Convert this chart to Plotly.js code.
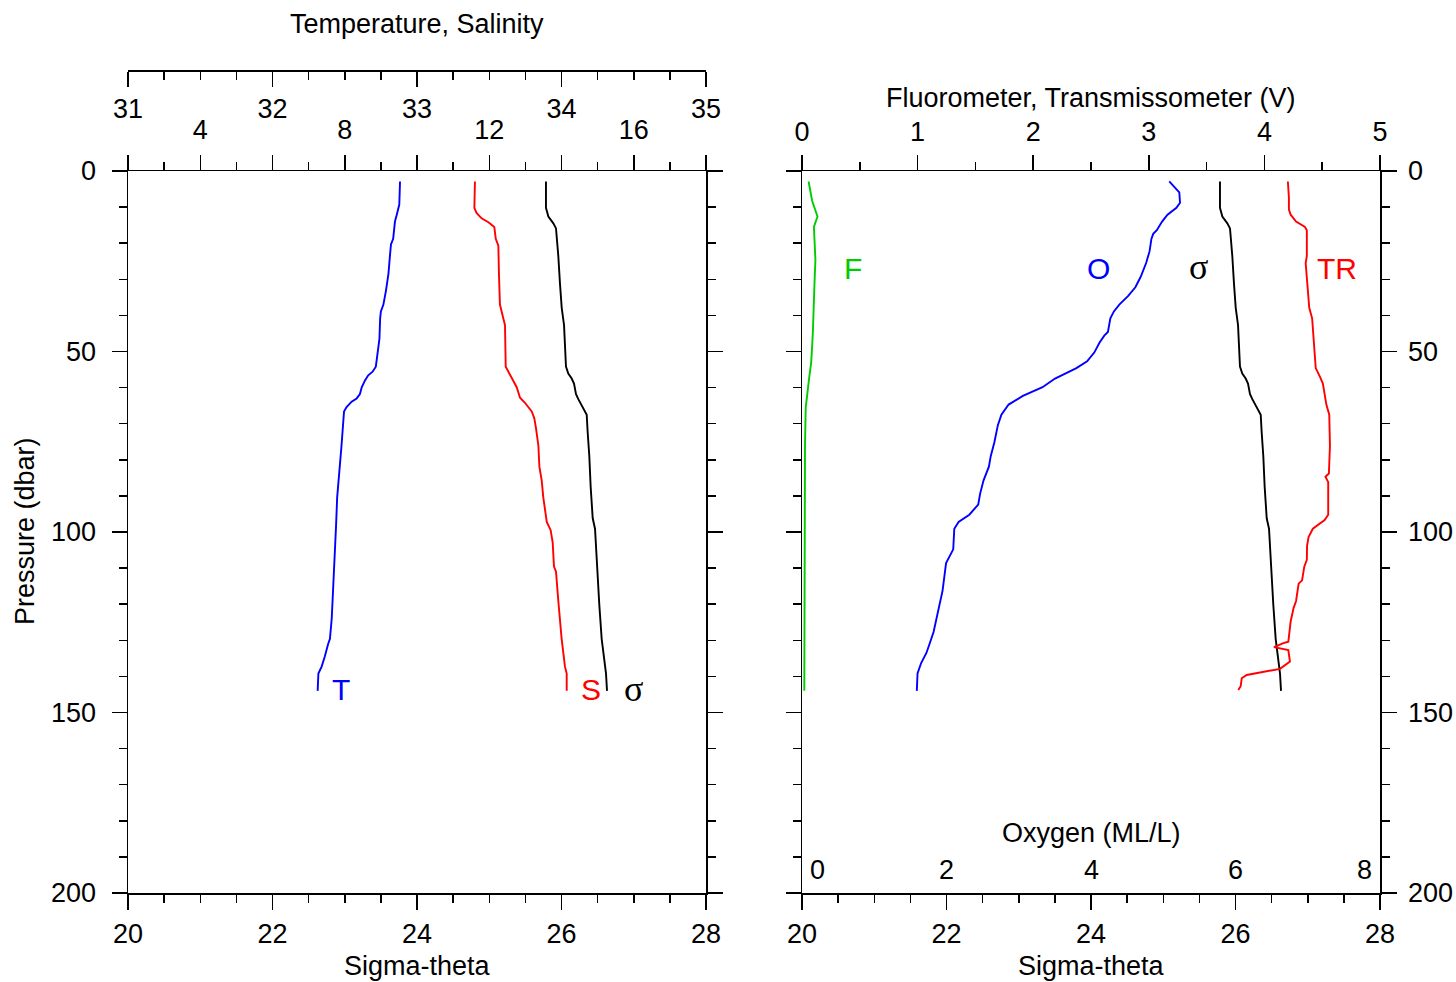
<!DOCTYPE html>
<html>
<head>
<meta charset="utf-8">
<script src="https://cdn.plot.ly/plotly-3.0.1.min.js"></script>
<style>html,body{margin:0;padding:0;background:#fff;}#chart{width:1456px;height:982px;}</style>
</head>
<body>
<div id="chart"></div>
<script>
// ---- Data ----
// Left panel: Temperature (deg C), Salinity, Sigma-theta vs Pressure (dbar)
const pT = [2.9, 9.3, 12.1, 14.0, 18.8, 20.3, 23.6, 28.4, 33.2, 37.0, 38.9, 40.8, 46.5, 51.3, 54.2, 55.6, 56.6, 58.0, 59.9, 61.8, 63.0, 63.9, 65.4, 66.6, 70.4, 76.1, 80.9, 85.6, 90.4, 98.1, 104.7, 112.4, 117.1, 123.9, 129.6, 131.0, 134.4, 137.3, 139.2, 144.0];
const temperature = [9.53, 9.51, 9.44, 9.39, 9.34, 9.28, 9.25, 9.21, 9.14, 9.07, 9.00, 8.98, 8.96, 8.91, 8.86, 8.77, 8.65, 8.56, 8.47, 8.42, 8.33, 8.19, 8.05, 7.98, 7.96, 7.91, 7.87, 7.82, 7.79, 7.76, 7.73, 7.71, 7.68, 7.64, 7.59, 7.54, 7.45, 7.36, 7.27, 7.25];

const pS = [2.9, 10.2, 11.6, 13.1, 14.2, 15.5, 18.8, 20.7, 28.4, 37.0, 40.8, 42.7, 54.2, 55.6, 58.0, 59.9, 62.8, 64.2, 66.6, 68.5, 71.4, 76.1, 81.9, 85.7, 90.4, 94.3, 97.2, 99.5, 102.9, 109.6, 111.0, 119.1, 129.6, 137.3, 139.2, 144.0];
const salinity = [33.401, 33.397, 33.412, 33.447, 33.494, 33.535, 33.545, 33.563, 33.567, 33.574, 33.597, 33.609, 33.614, 33.632, 33.666, 33.690, 33.713, 33.747, 33.794, 33.812, 33.824, 33.840, 33.847, 33.863, 33.874, 33.886, 33.898, 33.925, 33.939, 33.948, 33.962, 33.978, 34.001, 34.024, 34.036, 34.036];

const pSig = [2.9, 10.2, 12.6, 14.5, 15.9, 19.8, 23.6, 31.2, 37.9, 42.7, 49.4, 54.2, 56.1, 57.5, 58.9, 61.8, 63.2, 65.6, 67.5, 72.3, 79.0, 87.6, 96.2, 99.1, 104.8, 111.5, 120.1, 129.6, 135.4, 139.2, 144.0];
const sigmaTheta = [25.785, 25.785, 25.818, 25.887, 25.924, 25.942, 25.956, 25.979, 26.003, 26.035, 26.048, 26.062, 26.094, 26.141, 26.173, 26.201, 26.233, 26.302, 26.349, 26.362, 26.385, 26.404, 26.432, 26.464, 26.478, 26.501, 26.523, 26.556, 26.588, 26.616, 26.630];

// Right panel: Fluorometer (V), Oxygen (ML/L), Transmissometer (V)
const pF = [2.9, 5.5, 8.3, 9.7, 12.6, 15.5, 18.8, 24.6, 30.3, 34.1, 39.8, 44.6, 48.4, 53.2, 57.0, 60.9, 65.6, 76.1, 95.2, 114.3, 131.5, 144.0];
const fluorometer = [0.057, 0.072, 0.088, 0.103, 0.134, 0.103, 0.109, 0.116, 0.109, 0.106, 0.103, 0.094, 0.088, 0.079, 0.063, 0.051, 0.032, 0.026, 0.026, 0.026, 0.026, 0.020];

const pO = [2.9, 4.5, 5.9, 8.8, 10.2, 12.1, 14.0, 16.4, 17.4, 18.8, 22.2, 25.5, 29.3, 32.2, 34.6, 37.0, 38.9, 40.8, 44.6, 45.6, 47.5, 50.3, 52.7, 54.6, 56.1, 57.5, 59.9, 61.3, 62.3, 64.7, 67.5, 70.4, 75.2, 79.0, 81.9, 85.7, 89.5, 92.4, 95.2, 97.2, 99.1, 104.8, 106.7, 108.6, 116.3, 123.0, 127.7, 130.6, 133.5, 136.3, 139.2, 144.0];
const oxygen = [5.083, 5.157, 5.222, 5.232, 5.182, 5.059, 4.984, 4.911, 4.861, 4.836, 4.811, 4.763, 4.688, 4.614, 4.515, 4.392, 4.317, 4.268, 4.234, 4.184, 4.119, 4.045, 3.946, 3.798, 3.650, 3.502, 3.329, 3.156, 3.057, 2.860, 2.760, 2.711, 2.662, 2.612, 2.587, 2.513, 2.464, 2.439, 2.316, 2.167, 2.108, 2.093, 2.043, 1.994, 1.945, 1.870, 1.821, 1.772, 1.722, 1.649, 1.599, 1.589];

const pTR = [2.9, 7.4, 10.7, 12.1, 14.0, 15.5, 16.4, 23.6, 25.5, 30.3, 34.1, 37.9, 40.8, 48.4, 54.6, 57.0, 58.9, 61.8, 64.7, 67.5, 76.1, 83.8, 84.7, 86.2, 95.2, 96.7, 98.1, 99.1, 101.4, 103.8, 107.7, 109.6, 113.4, 114.3, 119.1, 121.0, 124.8, 127.7, 130.4, 130.8, 131.9, 132.7, 135.9, 137.9, 139.6, 140.5, 142.7, 143.8];
const transmissometer = [4.203, 4.212, 4.212, 4.227, 4.274, 4.351, 4.367, 4.367, 4.357, 4.367, 4.376, 4.388, 4.413, 4.428, 4.444, 4.481, 4.506, 4.521, 4.536, 4.561, 4.567, 4.558, 4.528, 4.552, 4.552, 4.521, 4.459, 4.419, 4.382, 4.369, 4.367, 4.345, 4.326, 4.296, 4.274, 4.253, 4.227, 4.215, 4.207, 4.164, 4.083, 4.207, 4.221, 4.135, 3.847, 3.804, 3.795, 3.774];

// Tick labels
const tempTickVals = [2, 4, 6, 8, 10, 12, 14, 16, 18];
const tempTickText = ['', '4', '', '8', '', '12', '', '16', ''];
const oxygenLabels = [0, 2, 4, 6, 8];

// ---- Styling ----
const FONT = 'Liberation Sans, Arial, Helvetica, sans-serif';
const FS = 27;
const W = 1456, H = 982;
const px = v => v / W;
const py = v => 1 - v / H;
const LW = 1.5;

function axisStyle(extra) {
  return Object.assign({
    showline: true, linecolor: 'black', linewidth: LW,
    ticks: 'outside', ticklen: 15, tickwidth: LW, tickcolor: 'black',
    showgrid: false, zeroline: false, fixedrange: true,
    tickfont: {family: FONT, size: FS, color: 'black'},
    ticklabelstandoff: 6
  }, extra);
}
function minor(dtick, tick0) {
  return {ticks: 'outside', ticklen: 8, tickwidth: LW, tickcolor: 'black', dtick: dtick, tick0: tick0, showgrid: false};
}

const lineW = 1.9;
const traces = [
  {x: temperature, y: pT, xaxis: 'x2', yaxis: 'y', mode: 'lines', line: {color: '#0000ff', width: lineW}, name: 'T'},
  {x: salinity, y: pS, xaxis: 'x3', yaxis: 'y', mode: 'lines', line: {color: '#ff0000', width: lineW}, name: 'S'},
  {x: sigmaTheta, y: pSig, xaxis: 'x', yaxis: 'y', mode: 'lines', line: {color: '#000000', width: lineW}, name: 'sigma'},
  {x: fluorometer, y: pF, xaxis: 'x5', yaxis: 'y2', mode: 'lines', line: {color: '#00cc00', width: lineW}, name: 'F'},
  {x: oxygen, y: pO, xaxis: 'x6', yaxis: 'y2', mode: 'lines', line: {color: '#0000ff', width: lineW}, name: 'O'},
  {x: sigmaTheta, y: pSig, xaxis: 'x4', yaxis: 'y2', mode: 'lines', line: {color: '#000000', width: lineW}, name: 'sigma2'},
  {x: transmissometer, y: pTR, xaxis: 'x5', yaxis: 'y2', mode: 'lines', line: {color: '#ff0000', width: lineW}, name: 'TR'}
];

const yDomain = [py(893), py(171)];

const layout = {
  width: W, height: H,
  margin: {l: 0, r: 0, t: 0, b: 0},
  paper_bgcolor: 'white', plot_bgcolor: 'rgba(0,0,0,0)',
  showlegend: false,
  font: {family: FONT, size: FS, color: 'black'},
  xaxis: axisStyle({domain: [px(128), px(706)], range: [20, 28], anchor: 'y', side: 'bottom',
    tick0: 20, dtick: 2, minor: minor(0.5, 20), ticklabelstandoff: 1}),
  xaxis2: axisStyle({overlaying: 'x', anchor: 'y', side: 'top', range: [2, 18],
    tickmode: 'array', tickvals: tempTickVals, ticktext: tempTickText, minor: minor(1, 2), ticklabelstandoff: 5}),
  xaxis3: axisStyle({overlaying: 'x', anchor: 'free', position: py(70), side: 'bottom', range: [31, 35],
    tick0: 31, dtick: 1, minor: minor(0.25, 31), ticklabelstandoff: -1}),
  yaxis: axisStyle({domain: yDomain, range: [200, 0], anchor: 'x', side: 'left', mirror: 'ticks',
    tick0: 0, dtick: 50, minor: minor(10, 0), ticklabelstandoff: 10}),
  xaxis4: axisStyle({domain: [px(802), px(1380)], range: [20, 28], anchor: 'y2', side: 'bottom',
    tick0: 20, dtick: 2, minor: minor(0.5, 20), ticklabelstandoff: 1}),
  xaxis5: axisStyle({overlaying: 'x4', anchor: 'y2', side: 'top', range: [0, 5],
    tick0: 0, dtick: 1, minor: minor(0.5, 0), ticklabelstandoff: 3}),
  xaxis6: {overlaying: 'x4', anchor: 'y2', range: [0, 8], visible: false, fixedrange: true},
  yaxis2: axisStyle({domain: yDomain, range: [200, 0], anchor: 'x4', side: 'right', mirror: 'ticks',
    tick0: 0, dtick: 50, minor: minor(10, 0), ticklabelstandoff: 6}),
  annotations: []
};

const ann = layout.annotations;
function paperText(text, x, y, opts) {
  ann.push(Object.assign({text: text, xref: 'paper', yref: 'paper', x: px(x), y: py(y),
    xanchor: 'center', yanchor: 'middle', showarrow: false,
    font: {family: FONT, size: FS, color: 'black'}}, opts || {}));
}
paperText('Temperature, Salinity', 417, 24);
paperText('Pressure (dbar)', 25, 531, {textangle: -90});
paperText('Sigma-theta', 417, 966);
paperText('Sigma-theta', 1091, 966);
paperText('Fluorometer, Transmissometer (V)', 1091, 98);
paperText('Oxygen (ML/L)', 1091, 833);

// Oxygen axis labels (inside bottom of right panel)
oxygenLabels.forEach(v => {
  const a = {text: String(v), xref: 'x6', yref: 'paper', x: v, y: py(870), yanchor: 'middle',
    xanchor: 'center', showarrow: false, font: {family: FONT, size: FS, color: 'black'}};
  if (v === oxygenLabels[0]) { a.xanchor = 'left'; a.xshift = 6; }
  if (v === oxygenLabels[oxygenLabels.length - 1]) { a.xanchor = 'right'; a.xshift = -6; }
  ann.push(a);
});

// Series labels
function seriesLabel(text, xref, yref, x, y, color, serif) {
  ann.push({text: text, xref: xref, yref: yref, x: x, y: y, xanchor: 'center', yanchor: 'middle',
    showarrow: false,
    font: {family: serif ? 'Liberation Serif, Times New Roman, serif' : FONT, size: serif ? 36 : 30, color: color}});
}
seriesLabel('T', 'x', 'y', 22.95, 143.5, '#0000ff');
seriesLabel('S', 'x', 'y', 26.41, 143.5, '#ff0000');
seriesLabel('σ', 'x', 'y', 26.99, 143.5, '#000000', true);
seriesLabel('F', 'x4', 'y2', 20.71, 26.9, '#00cc00');
seriesLabel('O', 'x4', 'y2', 24.10, 26.9, '#0000ff');
seriesLabel('σ', 'x4', 'y2', 25.49, 26.5, '#000000', true);
seriesLabel('TR', 'x4', 'y2', 27.40, 26.9, '#ff0000');

Plotly.newPlot('chart', traces, layout, {staticPlot: true, displayModeBar: false});
</script>
</body>
</html>
